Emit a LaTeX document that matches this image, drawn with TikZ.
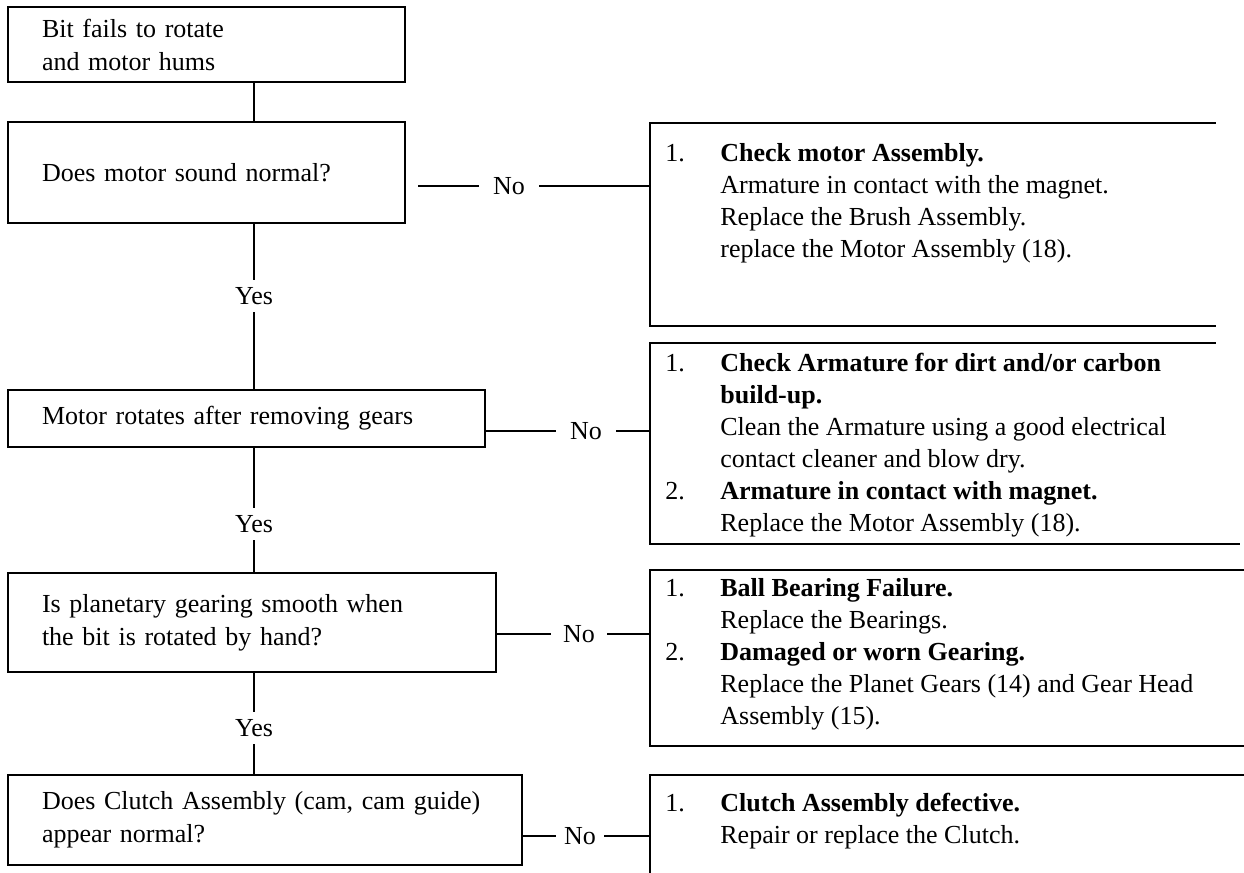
\documentclass[tikz,border=0pt]{standalone}
\usepackage{fontspec}
\setmainfont{Liberation Serif}
\usetikzlibrary{positioning}

\newcommand{\fixno}[1]{\makebox[27.5pt][l]{#1}}
\newcommand{\fixin}{\hspace*{27.5pt}}

\tikzset{
	ln/.style = {line width = 1.3pt},
	qbox/.style = {draw, line width = 1.3pt, inner xsep = 17pt, inner ysep = 0pt, align = left, font = \fontsize{13}{16.5}\selectfont},
	fixbox/.style = {inner sep = 0pt, anchor = north west},
	fixtext/.style = {inner sep = 0pt, align = left, font = \fontsize{13}{16}\selectfont},
	yeslab/.style = {inner xsep = 2pt, inner ysep = 3.6pt, font = \fontsize{13}{16}\selectfont},
	nolab/.style = {inner xsep = 7pt, inner ysep = 2pt, font = \fontsize{13}{16}\selectfont},
}

\begin{document}
\begin{tikzpicture}[x=0.5pt, y=-0.5pt]

	\useasboundingbox (0,0) rectangle (1244,873);
	\coordinate (spine) at (254,0);

	% questions
	\node [qbox, minimum width = 198.5pt, minimum height = 37.5pt, text width = 164.5pt] (bit) at (206.5,44.5) {Bit fails to rotate\\and motor hums};
	\node [qbox, minimum width = 198.5pt, minimum height = 50.5pt, text width = 164.5pt] (sound) at (206.5,172.5) {Does motor sound normal?};
	\node [qbox, minimum width = 238.5pt, minimum height = 28.5pt, text width = 204.5pt] (gears) at (246.5,418.5) {Motor rotates after removing gears};
	\node [qbox, minimum width = 244pt, minimum height = 49.5pt, text width = 210pt] (planet) at (252,622.5) {Is planetary gearing smooth when\\the bit is rotated by hand?};
	\node [qbox, minimum width = 257pt, minimum height = 45pt, text width = 223pt] (clutch) at (265,820) {Does Clutch Assembly (cam, cam guide)\\appear normal?};

	\node [yeslab] (yes1) at (254,296) {Yes};
	\node [yeslab] (yes2) at (254,524) {Yes};
	\node [yeslab] (yes3) at (254,728) {Yes};

	\draw [ln] (spine |- bit.south) -- (spine |- sound.north);
	\draw [ln] (spine |- sound.south) -- (yes1) -- (spine |- gears.north);
	\draw [ln] (spine |- gears.south) -- (yes2) -- (spine |- planet.north);
	\draw [ln] (spine |- planet.south) -- (yes3) -- (spine |- clutch.north);

	%%%%%%%%%%%%%%%%%%%%%%%%%%%%%%%%%%%%%%%%%%%%%%%%%%%%%%%%%%%%%%%%%%%%%

	% fixes, open on the right
	\node [fixbox, minimum width = 282.5pt, minimum height = 101pt] (fix1) at (650,123) {};
	\node [fixbox, minimum width = 282.5pt, minimum height = 100pt] (fix2) at (650,343) {};
	\node [fixbox, minimum width = 297pt, minimum height = 87.5pt] (fix3) at (650,570) {};
	\node [fixbox, minimum width = 297pt, minimum height = 49pt] (fix4) at (650,775) {};

	\draw [ln] (fix1.north east) -- (fix1.north west) -- (fix1.south west) -- (fix1.south east);
	\draw [ln] (fix2.north east) -- (fix2.north west) -- (fix2.south west) -- ++(295pt,0pt);
	\draw [ln] (fix3.north east) -- (fix3.north west) -- (fix3.south west) -- (fix3.south east);
	\draw [ln] (fix4.north east) -- (fix4.north west) -- (fix4.south west);

	\node [fixtext, below right = 10pt and 7.5pt of fix1.north west] (fix1txt) {%
		\fixno{1.}\textbf{Check motor Assembly.}\\
		\fixin Armature in contact with the magnet.\\
		\fixin Replace the Brush Assembly.\\
		\fixin replace the Motor Assembly (18).};
	\node [fixtext, below right = 5pt and 7.5pt of fix2.north west] (fix2txt) {%
		\fixno{1.}\textbf{Check Armature for dirt and/or carbon}\\
		\fixin\textbf{build-up.}\\
		\fixin Clean the Armature using a good electrical\\
		\fixin contact cleaner and blow dry.\\
		\fixno{2.}\textbf{Armature in contact with magnet.}\\
		\fixin Replace the Motor Assembly (18).};
	\node [fixtext, below right = 4pt and 7.5pt of fix3.north west] (fix3txt) {%
		\fixno{1.}\textbf{Ball Bearing Failure.}\\
		\fixin Replace the Bearings.\\
		\fixno{2.}\textbf{Damaged or worn Gearing.}\\
		\fixin Replace the Planet Gears (14) and Gear Head\\
		\fixin Assembly (15).};
	\node [fixtext, below right = 9pt and 7.5pt of fix4.north west] (fix4txt) {%
		\fixno{1.}\textbf{Clutch Assembly defective.}\\
		\fixin Repair or replace the Clutch.};

	%%%%%%%%%%%%%%%%%%%%%%%%%%%%%%%%%%%%%%%%%%%%%%%%%%%%%%%%%%%%%%%%%%%%%

	\node [nolab] (no1) at (509,186) {No};
	\node [nolab] (no2) at (586,431) {No};
	\node [nolab, inner xsep = 6pt] (no3) at (579,634) {No};
	\node [nolab, inner xsep = 4pt] (no4) at (580,836) {No};

	\coordinate (no1from) at (418,186);
	\draw [ln] (no1from) -- (no1) -- (fix1.west |- no1);
	\draw [ln] (gears.east |- no2) -- (no2) -- (fix2.west |- no2);
	\draw [ln] (planet.east |- no3) -- (no3) -- (fix3.west |- no3);
	\draw [ln] (clutch.east |- no4) -- (no4) -- (fix4.west |- no4);

\end{tikzpicture}
\end{document}
